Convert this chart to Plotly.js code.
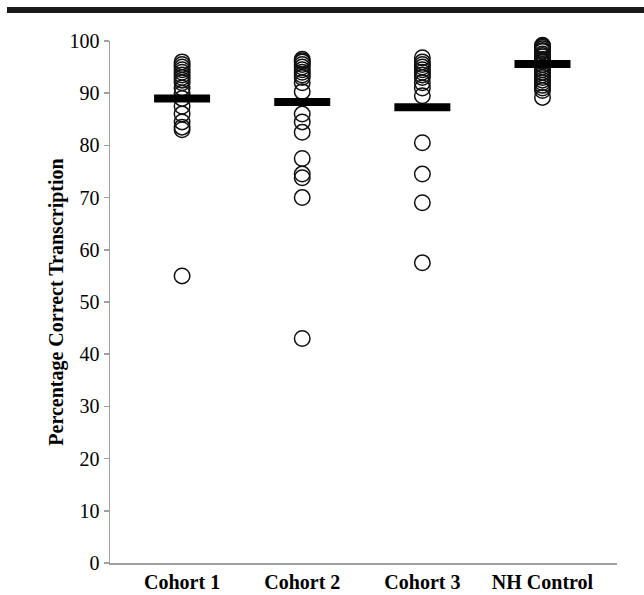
<!DOCTYPE html>
<html>
<head>
<meta charset="utf-8">
<script src="https://cdn.plot.ly/plotly-3.0.1.min.js"></script>
<style>
  html, body { margin: 0; padding: 0; background: #fff; }
  #wrap { position: relative; width: 644px; height: 595px; }
  #band { position: absolute; left: 7px; top: 7px; width: 637px; height: 6px; background: #1a1a1a; z-index: 5; }
  #chart { position: absolute; left: 0; top: 0; width: 644px; height: 595px; }
</style>
</head>
<body>
<div id="wrap">
  <div id="chart"></div>
  <div id="band"></div>
</div>
<script>
var categories = ["Cohort 1", "Cohort 2", "Cohort 3", "NH Control"];

var cohort1 = [96, 95.5, 95, 94.5, 94, 93.5, 93, 92.5, 92, 91, 90, 89, 87.5, 86, 84.5, 83.5, 83, 55];
var cohort2 = [96.5, 96.2, 96, 95.5, 95, 94.5, 94, 93.5, 93, 92, 90.3, 86, 84.5, 82.5, 77.5, 74.5, 73.8, 70, 43];
var cohort3 = [96.8, 96, 95.5, 95, 94.5, 94, 93.5, 93, 92, 91, 89.5, 80.5, 74.5, 69, 57.5];
var nhControl = [99.2, 99, 98.8, 98.5, 98.2, 98, 97.5, 97.2, 97, 96.5, 96.2, 96, 95.5, 95, 94.5, 94, 93.5, 93, 92.5, 92, 91.5, 91, 90.5, 89.2];

var means = [89.0, 88.3, 87.3, 95.6];

var groups = [cohort1, cohort2, cohort3, nhControl];

var traces = [];
groups.forEach(function (vals, i) {
  traces.push({
    type: "scatter",
    mode: "markers",
    x: vals.map(function () { return categories[i]; }),
    y: vals,
    cliponaxis: false,
    hoverinfo: "y",
    marker: {
      symbol: "circle-open",
      size: 15.5,
      color: "#111",
      line: { color: "#111", width: 1.5 }
    },
    showlegend: false
  });
});

traces.push({
  type: "scatter",
  mode: "markers",
  x: categories,
  y: means,
  cliponaxis: false,
  hoverinfo: "y",
  marker: {
    symbol: "line-ew",
    size: 40,
    color: "#000",
    line: { color: "#000", width: 8 }
  },
  showlegend: false
});

var layout = {
  width: 644,
  height: 595,
  margin: { l: 110, r: 27, t: 41, b: 32, pad: 0 },
  paper_bgcolor: "#fff",
  plot_bgcolor: "#fff",
  font: { family: "Liberation Serif, Times New Roman, serif", size: 20, color: "#000" },
  showlegend: false,
  xaxis: {
    type: "category",
    range: [-0.6, 3.62],
    showgrid: false,
    zeroline: false,
    showline: true,
    linecolor: "#a0a0a0",
    linewidth: 1.5,
    ticks: "",
    tickfont: { family: "Liberation Serif, Times New Roman, serif", size: 20, color: "#000", weight: "bold" },
    fixedrange: true
  },
  yaxis: {
    range: [0, 100],
    dtick: 10,
    showgrid: false,
    zeroline: false,
    showline: true,
    linecolor: "#a0a0a0",
    linewidth: 1.5,
    ticks: "outside",
    ticklen: 5,
    tickwidth: 1.5,
    tickcolor: "#a0a0a0",
    tickfont: { family: "Liberation Serif, Times New Roman, serif", size: 20, color: "#000" },
    title: {
      text: "<b>Percentage Correct Transcription</b>",
      font: { family: "Liberation Serif, Times New Roman, serif", size: 20, color: "#000" },
      standoff: 0
    },
    fixedrange: true
  }
};

Plotly.newPlot("chart", traces, layout, { displayModeBar: false, staticPlot: true });
</script>
</body>
</html>
